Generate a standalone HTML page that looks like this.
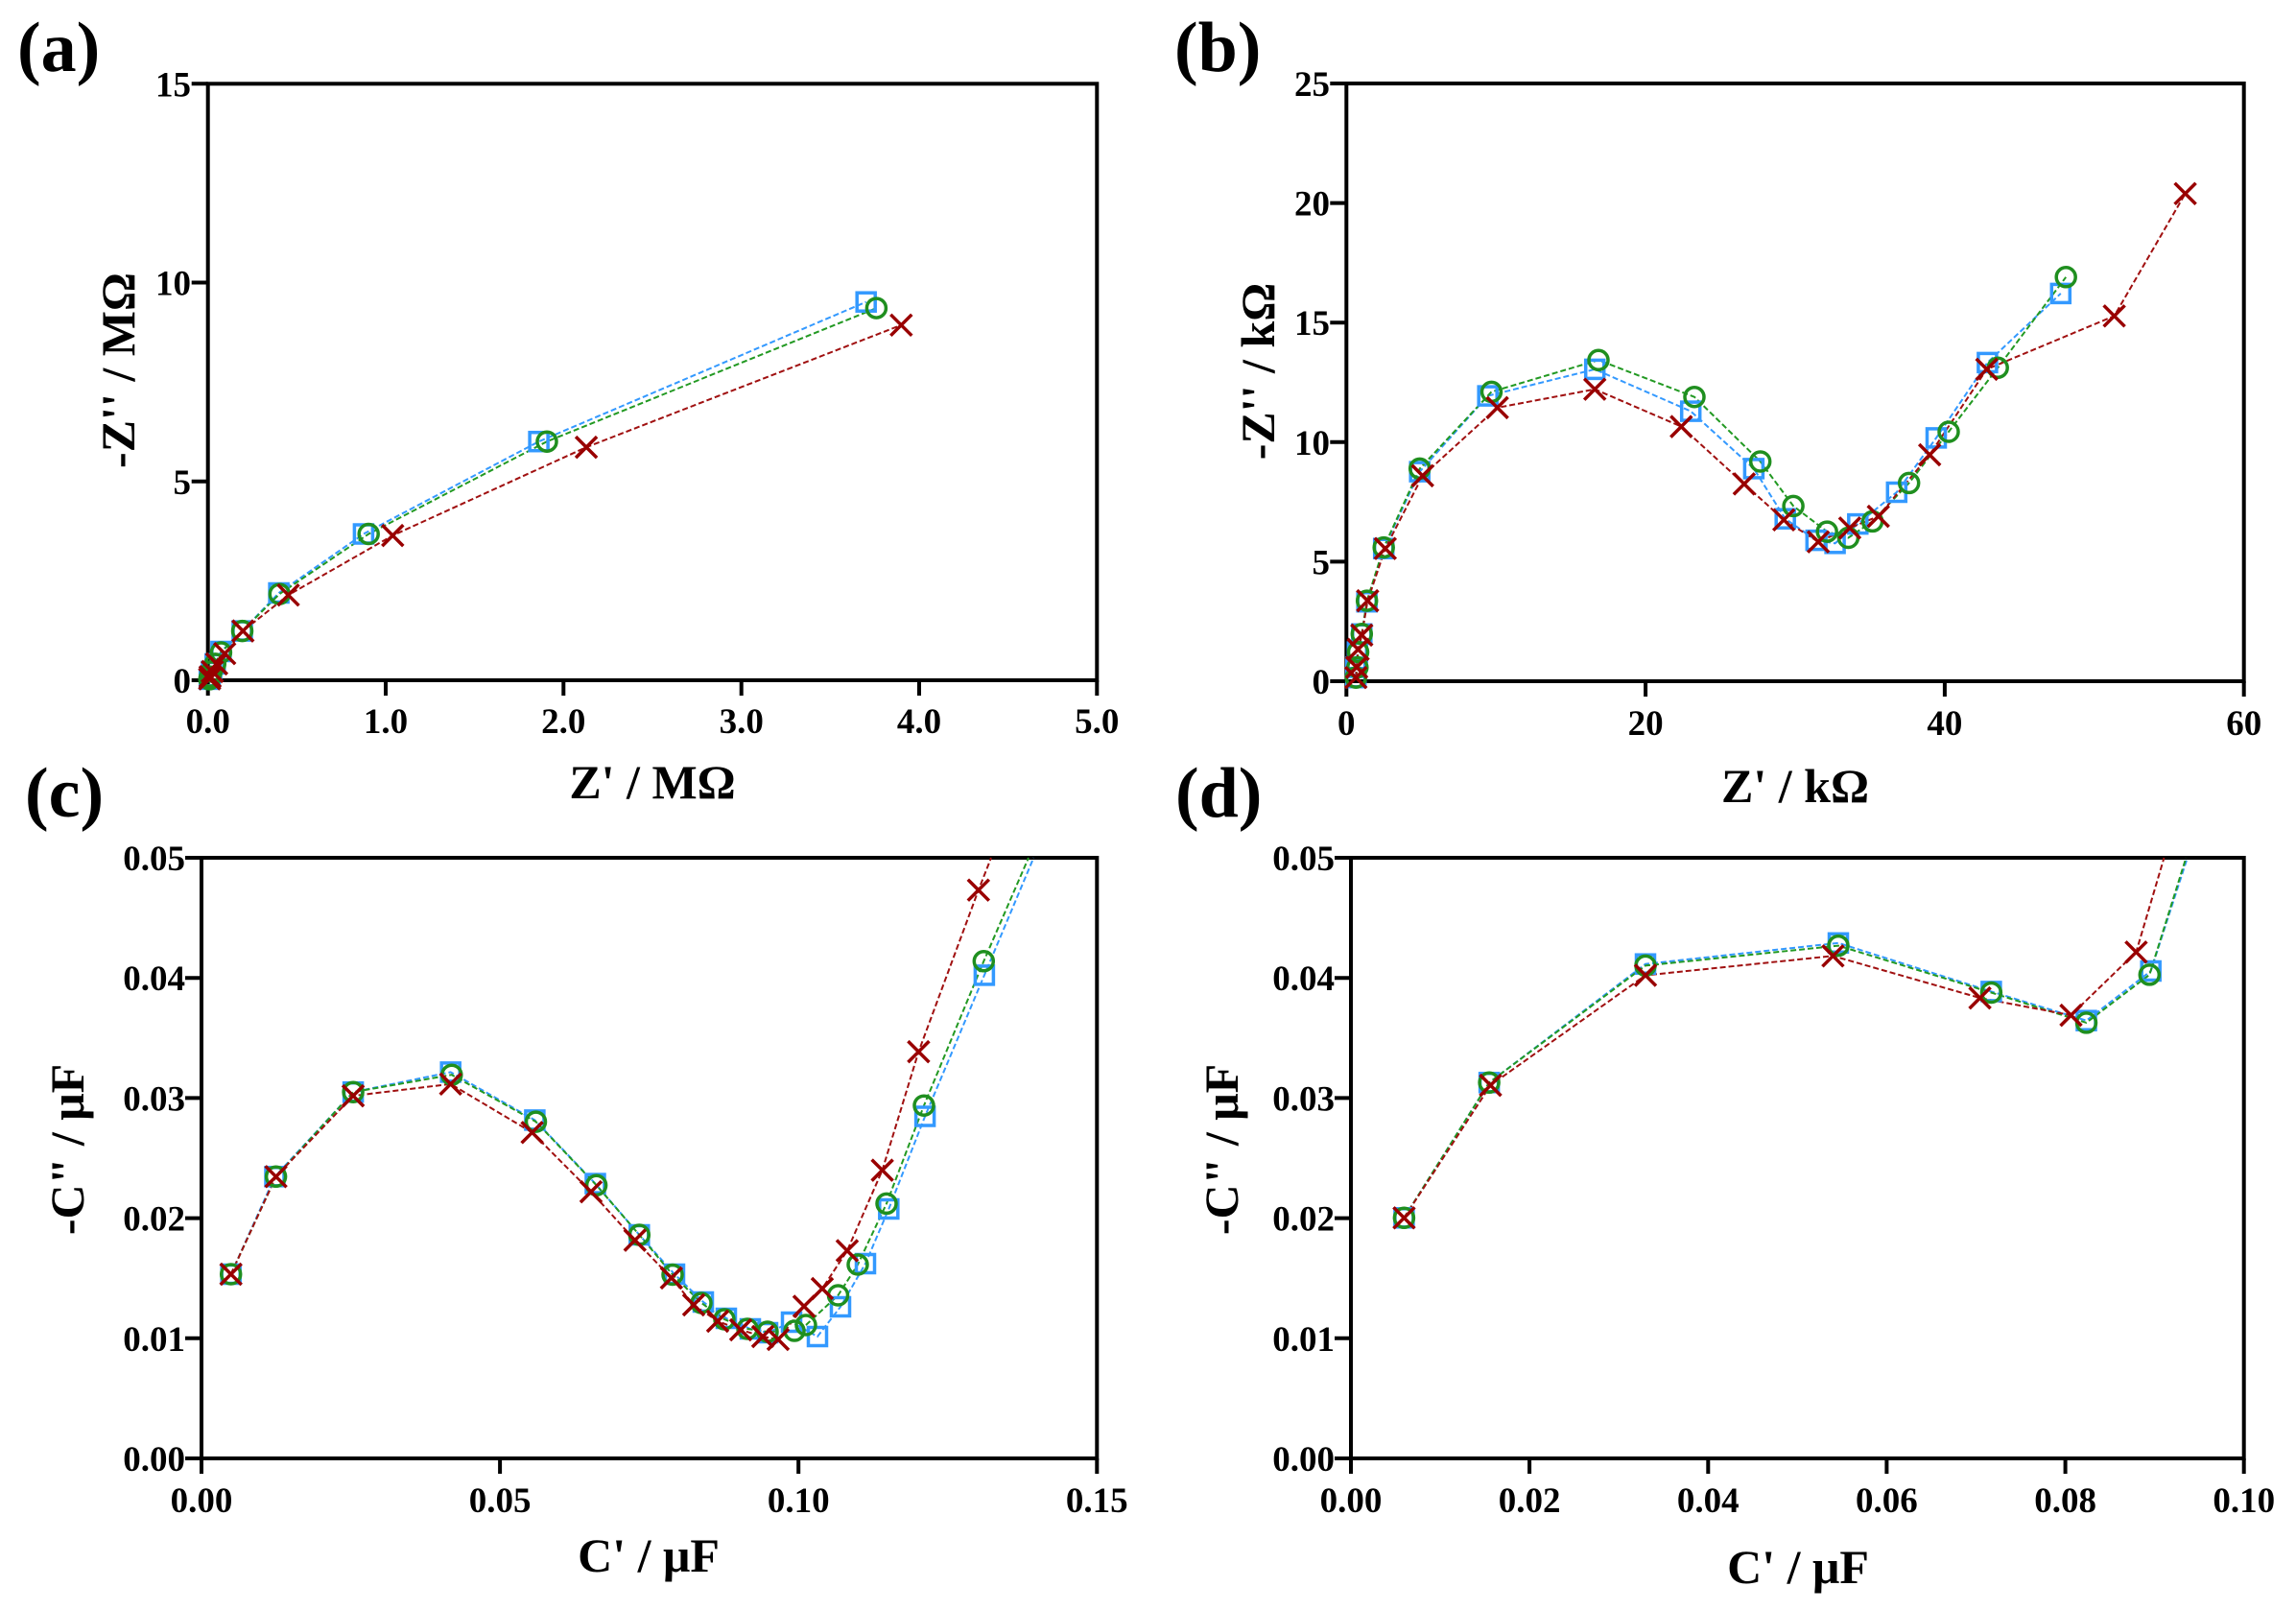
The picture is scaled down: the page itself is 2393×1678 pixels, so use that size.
<!DOCTYPE html>
<html>
<head>
<meta charset="utf-8">
<style>
html,body{margin:0;padding:0;background:#fff;}
svg{display:block;}
text{font-family:"Liberation Serif","Times New Roman",serif;font-weight:bold;fill:#000;}
.tk{font-size:37px;}
.ti{font-size:50px;}
.pl{font-size:74px;}
.ax{fill:none;stroke:#000;stroke-width:4;}
.lb{fill:none;stroke:#3399ff;stroke-width:2;stroke-dasharray:6 3;}
.lg{fill:none;stroke:#229922;stroke-width:2;stroke-dasharray:6 3;}
.lr{fill:none;stroke:#a01010;stroke-width:2;stroke-dasharray:6 3;}
</style>
</head>
<body>
<svg width="2393" height="1678" viewBox="0 0 2393 1678" xmlns="http://www.w3.org/2000/svg">
<defs>
  <rect id="sq" x="-9.5" y="-9.5" width="19" height="19" fill="none" stroke="#3399ff" stroke-width="3.5"/>
  <circle id="ci" r="10" fill="none" stroke="#1f8f1f" stroke-width="3.5"/>
  <path id="xx" d="M-11,-11 L11,11 M11,-11 L-11,11" fill="none" stroke="#990000" stroke-width="3.5"/>
</defs>
<rect width="2393" height="1678" fill="#fff"/>

<!-- Panel labels -->
<text class="pl" x="18" y="74">(a)</text>
<text class="pl" x="1224" y="74">(b)</text>
<text class="pl" x="26" y="851">(c)</text>
<text class="pl" x="1225" y="851">(d)</text>

<!-- ================= Panel (a) ================= -->
<rect class="ax" x="216.7" y="87.3" width="926.6" height="621.7"/>
<path class="ax" d="M199.7,87.3H216.7 M199.7,294.5H216.7 M199.7,501.8H216.7 M199.7,709H216.7
 M216.7,709V725 M402,709V725 M587.3,709V725 M772.7,709V725 M958,709V725 M1143.3,709V725"/>
<g class="tk" text-anchor="end">
<text x="199" y="100.5">15</text>
<text x="199" y="307.5">10</text>
<text x="199" y="515">5</text>
<text x="199" y="722">0</text>
</g>
<g class="tk" text-anchor="middle">
<text x="216.7" y="764">0.0</text>
<text x="402" y="764">1.0</text>
<text x="587.3" y="764">2.0</text>
<text x="772.7" y="764">3.0</text>
<text x="958" y="764">4.0</text>
<text x="1143.3" y="764">5.0</text>
</g>
<text class="ti" x="680" y="832" text-anchor="middle">Z' / MΩ</text>
<text class="ti" text-anchor="middle" transform="translate(140,386) rotate(-90)">-Z'' / MΩ</text>

<polyline class="lb" points="218.2,707.9 219,705.2 220.5,699.9 224.3,691.9 230.4,679 252.5,657.6 290.6,618 378.9,556.5 561.6,460.2 902.7,314.7"/>
<polyline class="lg" points="218.2,707.9 219,705.2 220.5,699.9 224.3,691.9 230.4,680 252.5,657.6 291.3,619.1 384.2,556.5 570,460.2 913.4,321.1"/>
<polyline class="lr" points="218.5,707.5 219,705.2 221.3,699.9 225.8,691.9 234.2,681.2 253.2,657.6 300.5,620.2 409.3,558.1 611.1,466.1 939.3,338.8"/>
<g>
<use href="#sq" x="218.2" y="707.9"/><use href="#sq" x="219" y="705.2"/><use href="#sq" x="220.5" y="699.9"/><use href="#sq" x="224.3" y="691.9"/><use href="#sq" x="230.4" y="679"/><use href="#sq" x="252.5" y="657.6"/><use href="#sq" x="290.6" y="618"/><use href="#sq" x="378.9" y="556.5"/><use href="#sq" x="561.6" y="460.2"/><use href="#sq" x="902.7" y="314.7"/>
</g>
<g>
<use href="#ci" x="218.2" y="707.9"/><use href="#ci" x="219" y="705.2"/><use href="#ci" x="220.5" y="699.9"/><use href="#ci" x="224.3" y="691.9"/><use href="#ci" x="230.4" y="680"/><use href="#ci" x="252.5" y="657.6"/><use href="#ci" x="291.3" y="619.1"/><use href="#ci" x="384.2" y="556.5"/><use href="#ci" x="570" y="460.2"/><use href="#ci" x="913.4" y="321.1"/>
</g>
<g>
<use href="#xx" x="218.5" y="707.5"/><use href="#xx" x="219" y="705.2"/><use href="#xx" x="221.3" y="699.9"/><use href="#xx" x="225.8" y="691.9"/><use href="#xx" x="234.2" y="681.2"/><use href="#xx" x="253.2" y="657.6"/><use href="#xx" x="300.5" y="620.2"/><use href="#xx" x="409.3" y="558.1"/><use href="#xx" x="611.1" y="466.1"/><use href="#xx" x="939.3" y="338.8"/>
</g>

<!-- ================= Panel (b) ================= -->
<rect class="ax" x="1403.3" y="87" width="935.4" height="623"/>
<path class="ax" d="M1386.3,87H1403.3 M1386.3,211.6H1403.3 M1386.3,336.2H1403.3 M1386.3,460.8H1403.3 M1386.3,585.4H1403.3 M1386.3,710H1403.3
 M1403.3,710V726 M1715.1,710V726 M2026.9,710V726 M2338.7,710V726"/>
<g class="tk" text-anchor="end">
<text x="1386" y="100">25</text>
<text x="1386" y="224.6">20</text>
<text x="1386" y="349.2">15</text>
<text x="1386" y="473.8">10</text>
<text x="1386" y="598.4">5</text>
<text x="1386" y="723">0</text>
</g>
<g class="tk" text-anchor="middle">
<text x="1403.3" y="766">0</text>
<text x="1715.1" y="766">20</text>
<text x="2026.9" y="766">40</text>
<text x="2338.7" y="766">60</text>
</g>
<text class="ti" x="1871" y="836" text-anchor="middle">Z' / kΩ</text>
<text class="ti" text-anchor="middle" transform="translate(1328,387) rotate(-90)">-Z'' / kΩ</text>

<polyline class="lb" points="1413.2,706.2 1413.2,695.5 1414.8,679.5 1419.3,660.8 1424.7,627.2 1442.2,571.7 1479.7,491.6 1550.7,412.6 1662.2,384.9 1762.2,428.6 1827.9,488.4 1860.7,540.7 1892.8,563.1 1912.6,566.3 1936.3,546.1 1976.8,513 2018,456.4 2071.4,377.9 2147.8,305.9"/>
<polyline class="lg" points="1413.2,706.2 1414.8,695.5 1415.5,679.5 1419.3,660.8 1424.7,626.1 1442.2,570.6 1479.7,488.4 1554.5,408.4 1666,375.3 1766,413.7 1834.7,481 1869.1,527.4 1904.2,554.1 1926.4,560.5 1951.6,543.4 1989.7,503.4 2031,450 2082.2,383.3 2153.2,288.8"/>
<polyline class="lr" points="1413.2,706.2 1414,695.5 1415.5,676.9 1419.3,661.9 1425.4,626.1 1443.8,571.7 1482.7,495.9 1560.6,424.9 1662.2,405.7 1752.3,444.6 1817.9,504.4 1859.2,541.8 1895.1,564.7 1927.9,550.3 1957.7,538.1 2011.2,474 2070.7,384.9 2203.6,329.3 2277.6,201.8"/>
<g>
<use href="#sq" x="1413.2" y="706.2"/><use href="#sq" x="1413.2" y="695.5"/><use href="#sq" x="1414.8" y="679.5"/><use href="#sq" x="1419.3" y="660.8"/><use href="#sq" x="1424.7" y="627.2"/><use href="#sq" x="1442.2" y="571.7"/><use href="#sq" x="1479.7" y="491.6"/><use href="#sq" x="1550.7" y="412.6"/><use href="#sq" x="1662.2" y="384.9"/><use href="#sq" x="1762.2" y="428.6"/><use href="#sq" x="1827.9" y="488.4"/><use href="#sq" x="1860.7" y="540.7"/><use href="#sq" x="1892.8" y="563.1"/><use href="#sq" x="1912.6" y="566.3"/><use href="#sq" x="1936.3" y="546.1"/><use href="#sq" x="1976.8" y="513"/><use href="#sq" x="2018" y="456.4"/><use href="#sq" x="2071.4" y="377.9"/><use href="#sq" x="2147.8" y="305.9"/>
</g>
<g>
<use href="#ci" x="1413.2" y="706.2"/><use href="#ci" x="1414.8" y="695.5"/><use href="#ci" x="1415.5" y="679.5"/><use href="#ci" x="1419.3" y="660.8"/><use href="#ci" x="1424.7" y="626.1"/><use href="#ci" x="1442.2" y="570.6"/><use href="#ci" x="1479.7" y="488.4"/><use href="#ci" x="1554.5" y="408.4"/><use href="#ci" x="1666" y="375.3"/><use href="#ci" x="1766" y="413.7"/><use href="#ci" x="1834.7" y="481"/><use href="#ci" x="1869.1" y="527.4"/><use href="#ci" x="1904.2" y="554.1"/><use href="#ci" x="1926.4" y="560.5"/><use href="#ci" x="1951.6" y="543.4"/><use href="#ci" x="1989.7" y="503.4"/><use href="#ci" x="2031" y="450"/><use href="#ci" x="2082.2" y="383.3"/><use href="#ci" x="2153.2" y="288.8"/>
</g>
<g>
<use href="#xx" x="1413.2" y="706.2"/><use href="#xx" x="1414" y="695.5"/><use href="#xx" x="1415.5" y="676.9"/><use href="#xx" x="1419.3" y="661.9"/><use href="#xx" x="1425.4" y="626.1"/><use href="#xx" x="1443.8" y="571.7"/><use href="#xx" x="1482.7" y="495.9"/><use href="#xx" x="1560.6" y="424.9"/><use href="#xx" x="1662.2" y="405.7"/><use href="#xx" x="1752.3" y="444.6"/><use href="#xx" x="1817.9" y="504.4"/><use href="#xx" x="1859.2" y="541.8"/><use href="#xx" x="1895.1" y="564.7"/><use href="#xx" x="1927.9" y="550.3"/><use href="#xx" x="1957.7" y="538.1"/><use href="#xx" x="2011.2" y="474"/><use href="#xx" x="2070.7" y="384.9"/><use href="#xx" x="2203.6" y="329.3"/><use href="#xx" x="2277.6" y="201.8"/>
</g>

<!-- ================= Panel (c) ================= -->
<rect class="ax" x="210" y="894" width="933.3" height="626"/>
<path class="ax" d="M193,894H210 M193,1019.2H210 M193,1144.4H210 M193,1269.6H210 M193,1394.8H210 M193,1520H210
 M210,1520V1536 M521.1,1520V1536 M832.2,1520V1536 M1143.3,1520V1536"/>
<g class="tk" text-anchor="end">
<text x="193" y="907">0.05</text>
<text x="193" y="1032.2">0.04</text>
<text x="193" y="1157.4">0.03</text>
<text x="193" y="1282.6">0.02</text>
<text x="193" y="1407.8">0.01</text>
<text x="193" y="1533">0.00</text>
</g>
<g class="tk" text-anchor="middle">
<text x="210" y="1576">0.00</text>
<text x="521.1" y="1576">0.05</text>
<text x="832.2" y="1576">0.10</text>
<text x="1143.3" y="1576">0.15</text>
</g>
<text class="ti" x="676" y="1638" text-anchor="middle">C' / μF</text>
<text class="ti" text-anchor="middle" transform="translate(87,1198) rotate(-90)">-C" / μF</text>

<polyline class="lb" points="240.7,1328 286.5,1226.3 368.1,1138.2 469.7,1117.4 557.4,1167.4 620.5,1233.6 666.3,1287 703,1328 733,1357 757,1374 782,1385 800,1389 825,1378 852,1393 876,1362 902,1317 926.3,1260 964.1,1163.5 1025.9,1016.4 1077.3,894"/>
<polyline class="lg" points="240.7,1328 287.6,1226.3 368.1,1138.2 470.8,1120.2 558.5,1169.1 621.6,1235.3 666.3,1287 701,1328.5 731,1358 755,1375 779,1385 800,1388 828,1387 840,1381 873.5,1350 894,1318 924,1254.4 963,1152.2 1025.3,1001.8 1072,894"/>
<polyline class="lr" points="240.7,1328 287.6,1226.3 368.1,1142.1 469.7,1129.8 554.6,1180.3 616,1242.1 661.8,1292.6 699.8,1331.9 723,1360 748,1377 772,1386 795,1393 811,1396 838,1361.5 857,1343 883,1303.5 919.6,1219.6 957.4,1096.1 1019.8,927.7 1033,894"/>
<g>
<use href="#sq" x="240.7" y="1328"/><use href="#sq" x="286.5" y="1226.3"/><use href="#sq" x="368.1" y="1138.2"/><use href="#sq" x="469.7" y="1117.4"/><use href="#sq" x="557.4" y="1167.4"/><use href="#sq" x="620.5" y="1233.6"/><use href="#sq" x="666.3" y="1287"/><use href="#sq" x="703" y="1328"/><use href="#sq" x="733" y="1357"/><use href="#sq" x="757" y="1374"/><use href="#sq" x="782" y="1385"/><use href="#sq" x="800" y="1389"/><use href="#sq" x="825" y="1378"/><use href="#sq" x="852" y="1393"/><use href="#sq" x="876" y="1362"/><use href="#sq" x="902" y="1317"/><use href="#sq" x="926.3" y="1260"/><use href="#sq" x="964.1" y="1163.5"/><use href="#sq" x="1025.9" y="1016.4"/>
</g>
<g>
<use href="#ci" x="240.7" y="1328"/><use href="#ci" x="287.6" y="1226.3"/><use href="#ci" x="368.1" y="1138.2"/><use href="#ci" x="470.8" y="1120.2"/><use href="#ci" x="558.5" y="1169.1"/><use href="#ci" x="621.6" y="1235.3"/><use href="#ci" x="666.3" y="1287"/><use href="#ci" x="701" y="1328.5"/><use href="#ci" x="731" y="1358"/><use href="#ci" x="755" y="1375"/><use href="#ci" x="779" y="1385"/><use href="#ci" x="800" y="1388"/><use href="#ci" x="828" y="1387"/><use href="#ci" x="840" y="1381"/><use href="#ci" x="873.5" y="1350"/><use href="#ci" x="894" y="1318"/><use href="#ci" x="924" y="1254.4"/><use href="#ci" x="963" y="1152.2"/><use href="#ci" x="1025.3" y="1001.8"/>
</g>
<g>
<use href="#xx" x="240.7" y="1328"/><use href="#xx" x="287.6" y="1226.3"/><use href="#xx" x="368.1" y="1142.1"/><use href="#xx" x="469.7" y="1129.8"/><use href="#xx" x="554.6" y="1180.3"/><use href="#xx" x="616" y="1242.1"/><use href="#xx" x="661.8" y="1292.6"/><use href="#xx" x="699.8" y="1331.9"/><use href="#xx" x="723" y="1360"/><use href="#xx" x="748" y="1377"/><use href="#xx" x="772" y="1386"/><use href="#xx" x="795" y="1393"/><use href="#xx" x="811" y="1396"/><use href="#xx" x="838" y="1361.5"/><use href="#xx" x="857" y="1343"/><use href="#xx" x="883" y="1303.5"/><use href="#xx" x="919.6" y="1219.6"/><use href="#xx" x="957.4" y="1096.1"/><use href="#xx" x="1019.8" y="927.7"/>
</g>

<!-- ================= Panel (d) ================= -->
<rect class="ax" x="1408" y="894" width="930.7" height="626"/>
<path class="ax" d="M1391,894H1408 M1391,1019.2H1408 M1391,1144.4H1408 M1391,1269.6H1408 M1391,1394.8H1408 M1391,1520H1408
 M1408,1520V1536 M1594.1,1520V1536 M1780.3,1520V1536 M1966.4,1520V1536 M2152.6,1520V1536 M2338.7,1520V1536"/>
<g class="tk" text-anchor="end">
<text x="1391" y="907">0.05</text>
<text x="1391" y="1032.2">0.04</text>
<text x="1391" y="1157.4">0.03</text>
<text x="1391" y="1282.6">0.02</text>
<text x="1391" y="1407.8">0.01</text>
<text x="1391" y="1533">0.00</text>
</g>
<g class="tk" text-anchor="middle">
<text x="1408" y="1576">0.00</text>
<text x="1594.1" y="1576">0.02</text>
<text x="1780.3" y="1576">0.04</text>
<text x="1966.4" y="1576">0.06</text>
<text x="2152.6" y="1576">0.08</text>
<text x="2338.7" y="1576">0.10</text>
</g>
<text class="ti" x="1874" y="1650" text-anchor="middle">C' / μF</text>
<text class="ti" text-anchor="middle" transform="translate(1290,1198) rotate(-90)">-C" / μF</text>

<polyline class="lb" points="1463.4,1269.3 1552.1,1128.3 1715,1004.7 1916,982.8 2075.4,1033.4 2174.5,1063.7 2241.7,1012 2279.8,894"/>
<polyline class="lg" points="1463.4,1269.3 1552.1,1128.3 1715,1006.4 1916,985.6 2075.4,1034.5 2174.5,1065.9 2240.3,1015.9 2278.4,894"/>
<polyline class="lr" points="1463.4,1269.3 1553.5,1131.1 1715,1016.5 1910.4,996.3 2063.6,1040.1 2158.5,1058.1 2226.4,992.3 2255.5,894"/>
<g>
<use href="#sq" x="1463.4" y="1269.3"/><use href="#sq" x="1552.1" y="1128.3"/><use href="#sq" x="1715" y="1004.7"/><use href="#sq" x="1916" y="982.8"/><use href="#sq" x="2075.4" y="1033.4"/><use href="#sq" x="2174.5" y="1063.7"/><use href="#sq" x="2241.7" y="1012"/>
</g>
<g>
<use href="#ci" x="1463.4" y="1269.3"/><use href="#ci" x="1552.1" y="1128.3"/><use href="#ci" x="1715" y="1006.4"/><use href="#ci" x="1916" y="985.6"/><use href="#ci" x="2075.4" y="1034.5"/><use href="#ci" x="2174.5" y="1065.9"/><use href="#ci" x="2240.3" y="1015.9"/>
</g>
<g>
<use href="#xx" x="1463.4" y="1269.3"/><use href="#xx" x="1553.5" y="1131.1"/><use href="#xx" x="1715" y="1016.5"/><use href="#xx" x="1910.4" y="996.3"/><use href="#xx" x="2063.6" y="1040.1"/><use href="#xx" x="2158.5" y="1058.1"/><use href="#xx" x="2226.4" y="992.3"/>
</g>
</svg>
</body>
</html>
